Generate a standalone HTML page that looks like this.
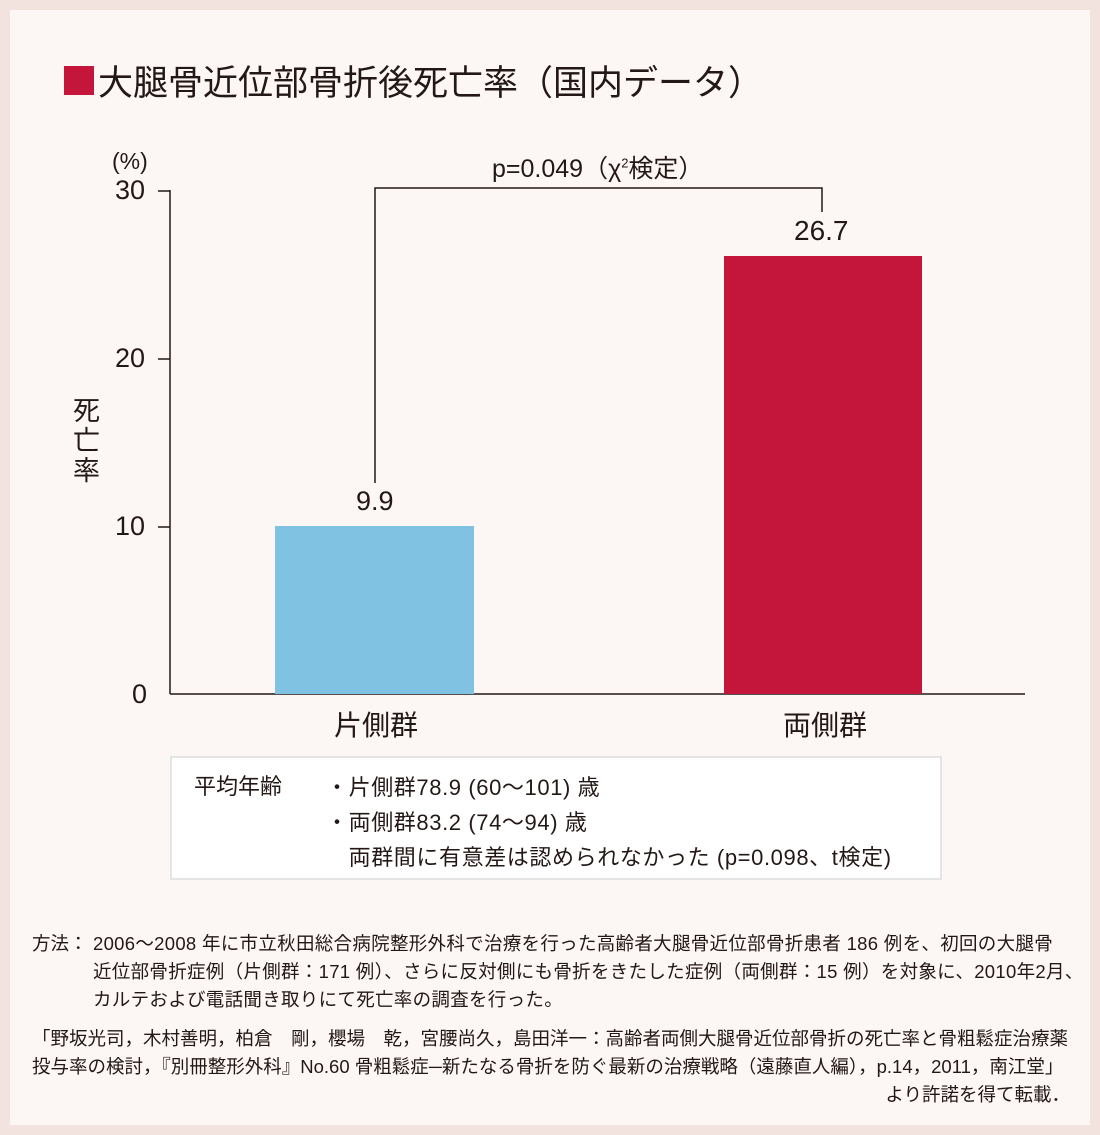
<!DOCTYPE html>
<html><head><meta charset="utf-8"><style>
body{margin:0;width:1100px;height:1135px;background:#f3e3df;font-family:"Liberation Sans","Noto Sans CJK JP",sans-serif;color:#231815;position:relative;overflow:hidden}
.panel{position:absolute;left:10px;top:10px;width:1080px;height:1115px;background:#fcf6f4}
.a{position:absolute;white-space:nowrap}
</style></head><body>
<div class="panel"></div>
<div class="a" style="left:64px;top:66px;width:30px;height:29px;background:#c4153b"></div>
<div class="a" style="left:98px;top:55px;font-size:35px;">大腿骨近位部骨折後死亡率（国内データ）</div>
<svg class="a" style="left:0;top:0" width="1100" height="760">
<g stroke="#231815" stroke-width="1.5" fill="none">
<line x1="170" y1="190" x2="170" y2="694"/>
<line x1="170" y1="694" x2="1025" y2="694"/>
<line x1="158" y1="191" x2="170" y2="191"/>
<line x1="158" y1="359" x2="170" y2="359"/>
<line x1="158" y1="527" x2="170" y2="527"/>
<polyline points="375,483 375,188 822,188 822,212"/>
</g>
<rect x="275" y="526" width="199" height="168" fill="#7fc2e1"/>
<rect x="724" y="256" width="198" height="438" fill="#c4153b"/>
</svg>
<div class="a" style="left:112px;top:148px;font-size:23px">(%)</div>
<div class="a" style="left:115px;top:175px;font-size:27px">30</div>
<div class="a" style="left:115px;top:343px;font-size:27px">20</div>
<div class="a" style="left:115px;top:511px;font-size:27px">10</div>
<div class="a" style="left:132px;top:679px;font-size:27px">0</div>
<div class="a" style="left:73px;top:396px;font-size:27px;width:30px;line-height:30px;white-space:normal">死亡率</div>
<div class="a" style="left:356px;top:486px;font-size:27px">9.9</div>
<div class="a" style="left:794px;top:215px;font-size:28px">26.7</div>
<div class="a" style="left:492px;top:149px;font-size:25px">p=0.049（χ<sup style="font-size:13px">2</sup>検定）</div>
<div class="a" style="left:334px;top:704px;font-size:28px">片側群</div>
<div class="a" style="left:783px;top:704px;font-size:28px">両側群</div>
<div class="a" style="left:170px;top:756px;width:768px;height:120px;background:#fff;border:2px solid #e4e4e4"></div>
<div class="a" style="left:194px;top:770px;font-size:22px;line-height:33px">平均年齢</div>
<div class="a" style="left:326px;top:770px;font-size:22px;line-height:35px;letter-spacing:0.6px">・片側群78.9 (60～101) 歳<br>・両側群83.2 (74～94) 歳<br>　両群間に有意差は認められなかった (p=0.098、t検定)</div>
<div class="a" style="left:32px;top:930px;font-size:18.5px;line-height:28px">方法：</div>
<div class="a" style="left:93px;top:930px;font-size:18.5px;line-height:28px;letter-spacing:0.3px">2006～2008 年に市立秋田総合病院整形外科で治療を行った高齢者大腿骨近位部骨折患者 186 例を、初回の大腿骨<br>近位部骨折症例（片側群：171 例）、さらに反対側にも骨折をきたした症例（両側群：15 例）を対象に、2010年2月、<br>カルテおよび電話聞き取りにて死亡率の調査を行った。</div>
<div class="a" style="left:32px;top:1025px;font-size:18.5px;line-height:28px">「野坂光司，木村善明，柏倉　剛，櫻場　乾，宮腰尚久，島田洋一：高齢者両側大腿骨近位部骨折の死亡率と骨粗鬆症治療薬<br>投与率の検討，『別冊整形外科』No.60 骨粗鬆症─新たなる骨折を防ぐ最新の治療戦略（遠藤直人編），p.14，2011，南江堂」</div>
<div class="a" style="right:30px;top:1081px;font-size:18.5px;line-height:28px">より許諾を得て転載．</div>
</body></html>
